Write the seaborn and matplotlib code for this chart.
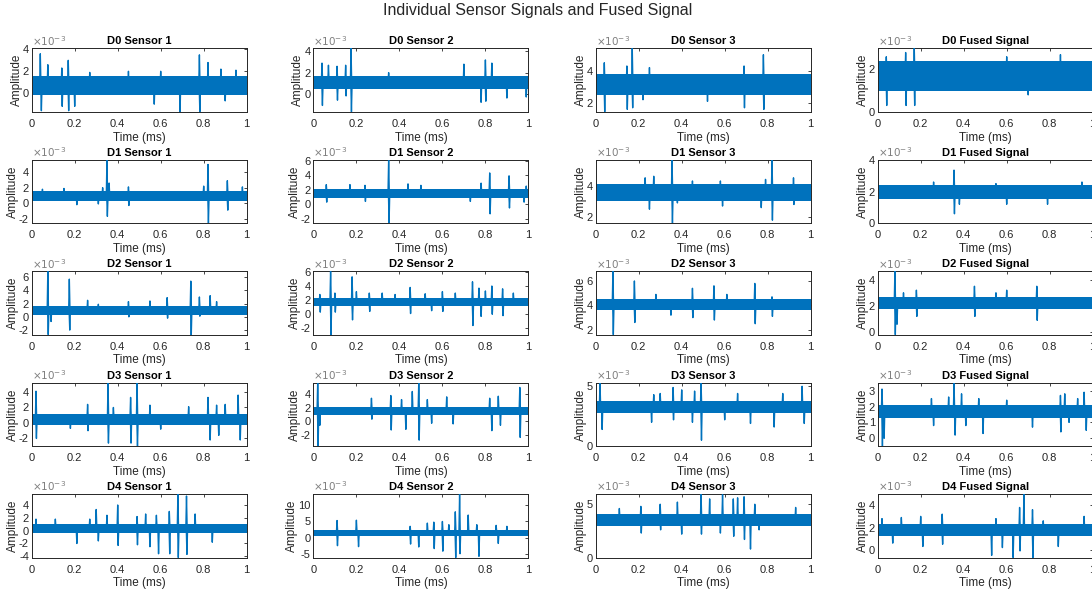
import numpy as np
import pandas as pd
import matplotlib
matplotlib.use("Agg")
import matplotlib.pyplot as plt
import seaborn as sns

# ---------------- data (amplitudes in units of 1e-3) ----------------
devices = ["D0", "D1", "D2", "D3", "D4"]
channels = ["Sensor 1", "Sensor 2", "Sensor 3", "Fused Signal"]
time_ticks = [0, 0.2, 0.4, 0.6, 0.8, 1]
time_tick_labels = ["0", "0.2", "0.4", "0.6", "0.8", "1"]

# y-limits per panel (row-major: D0 S1, D0 S2, D0 S3, D0 F, D1 S1, ...)
ylim_lo = [-1.7, -1.7, 1.45, 0.0,
           -2.6, -2.6, 1.6, 0.0,
           -2.7, -2.9, 1.6, -0.2,
           -3.0, -3.7, 0.0, -0.5,
           -4.2, -6.2, 0.0, -0.7]
ylim_hi = [4.1, 4.3, 5.4, 3.0,
           5.6, 6.1, 5.65, 4.0,
           6.9, 6.1, 6.8, 4.65,
           5.2, 5.7, 5.3, 3.5,
           5.7, 13.5, 5.95, 5.0]
yticks = [[0, 2, 4], [0, 2, 4], [2, 4], [0, 2],
          [-2, 0, 2, 4], [-2, 0, 2, 4, 6], [2, 4], [0, 2, 4],
          [-2, 0, 2, 4, 6], [-2, 0, 2, 4, 6], [2, 4, 6], [0, 2, 4],
          [-2, 0, 2, 4], [-2, 0, 2, 4], [0, 5], [0, 1, 2, 3],
          [-4, -2, 0, 2, 4], [-5, 0, 5, 10], [0, 5], [0, 2, 4]]

# dense noise band (lower / upper edge) per panel
band_lo = [-0.2, 0.5, 2.5, 1.0,
           0.3, 0.9, 3.0, 1.5,
           0.3, 1.1, 3.6, 1.8,
           -0.2, 0.9, 2.8, 1.3,
           -0.4, 0.5, 3.0, 1.2]
band_hi = [1.55, 1.7, 3.8, 2.4,
           1.6, 2.1, 4.1, 2.4,
           1.6, 2.3, 4.5, 2.7,
           1.2, 2.1, 3.8, 2.1,
           1.1, 2.5, 4.1, 2.3]

# spikes: time (ms) and peak amplitude
d0_s1_t = [0.04, 0.045, 0.075, 0.14, 0.142, 0.17, 0.172, 0.2, 0.27, 0.45, 0.57, 0.6, 0.69, 0.78, 0.782, 0.82, 0.88, 0.9, 0.95]
d0_s1_v = [3.6, -1.6, 2.6, 2.3, -1.2, 3.0, -1.6, -1.2, 1.9, 2.0, -1.0, 2.0, -1.7, 3.5, -1.7, 2.8, 2.2, -0.7, 2.1]
d0_s2_t = [0.04, 0.042, 0.07, 0.11, 0.112, 0.15, 0.152, 0.175, 0.177, 0.35, 0.7, 0.78, 0.8, 0.802, 0.83, 0.9, 0.99]
d0_s2_v = [2.9, -1.1, 2.7, 2.6, -0.6, 2.7, -0.2, 4.3, -1.7, 2.0, 2.8, -0.8, 3.2, -0.7, 2.9, -0.4, -0.3]
d0_s3_t = [0.04, 0.042, 0.145, 0.147, 0.17, 0.172, 0.22, 0.25, 0.52, 0.69, 0.692, 0.78, 0.782]
d0_s3_v = [4.5, 1.45, 4.3, 1.6, 5.4, 1.7, 2.2, 4.2, 2.1, 4.3, 1.7, 5.0, 1.6]
d0_f_t = [0.04, 0.042, 0.13, 0.132, 0.17, 0.172, 0.6, 0.7, 0.85]
d0_f_v = [2.6, 0.3, 2.8, 0.3, 3.0, 0.3, 2.6, 0.8, 2.7]

d1_s1_t = [0.05, 0.15, 0.21, 0.31, 0.33, 0.35, 0.352, 0.36, 0.45, 0.452, 0.8, 0.82, 0.822, 0.91, 0.912, 0.98]
d1_s1_v = [1.8, 1.9, -0.2, -0.1, 2.0, 5.6, -1.7, 2.6, 2.1, -0.3, 2.2, 5.0, -2.6, 2.9, -0.9, 2.1]
d1_s2_t = [0.06, 0.062, 0.17, 0.24, 0.242, 0.35, 0.352, 0.44, 0.5, 0.73, 0.78, 0.82, 0.822, 0.91, 0.912, 0.98, 0.99]
d1_s2_v = [2.7, 0.3, 2.7, 2.6, 0.4, 6.1, -2.6, 2.8, 2.6, 0.4, 2.9, 4.3, -1.3, 3.9, -0.5, 0.3, 2.5]
d1_s3_t = [0.23, 0.25, 0.27, 0.355, 0.357, 0.38, 0.45, 0.58, 0.59, 0.77, 0.79, 0.82, 0.822, 0.92, 0.922]
d1_s3_v = [4.5, 2.5, 4.6, 5.65, 1.6, 2.9, 4.3, 4.3, 2.7, 2.6, 4.4, 5.65, 1.8, 4.5, 2.8]
d1_f_t = [0.26, 0.355, 0.357, 0.38, 0.55, 0.6, 0.79, 0.95]
d1_f_v = [2.6, 3.35, 0.6, 1.2, 2.5, 1.2, 1.2, 2.6]

d2_s1_t = [0.075, 0.077, 0.09, 0.175, 0.177, 0.26, 0.31, 0.45, 0.452, 0.55, 0.63, 0.632, 0.74, 0.742, 0.78, 0.782, 0.83, 0.86]
d2_s1_v = [6.9, -2.7, -0.7, 5.7, -2.0, 2.5, 1.9, 2.3, 0.0, 2.4, 2.9, -0.2, 5.4, -3.0, 3.0, 0.1, 3.2, 2.3]
d2_s2_t = [0.03, 0.032, 0.08, 0.082, 0.1, 0.102, 0.18, 0.182, 0.2, 0.26, 0.262, 0.32, 0.38, 0.45, 0.452, 0.52, 0.55, 0.6, 0.602, 0.66, 0.74, 0.742, 0.77, 0.78, 0.8, 0.83, 0.832, 0.88, 0.882, 0.93]
d2_s2_v = [2.8, 0.3, 6.1, -2.9, 3.0, 0.3, 5.3, -0.8, 3.2, 3.0, 0.4, 3.0, 2.8, 3.8, 0.1, 2.9, 0.5, 3.2, 0.4, 3.0, 4.6, -1.6, 3.7, -0.3, 3.3, 4.0, 0.0, 3.6, -0.2, 3.0]
d2_s3_t = [0.08, 0.082, 0.18, 0.182, 0.28, 0.35, 0.45, 0.452, 0.55, 0.552, 0.61, 0.74, 0.742, 0.82, 0.822]
d2_s3_v = [6.8, 1.6, 6.0, 2.6, 4.9, 3.2, 5.4, 3.0, 5.6, 2.8, 4.9, 5.8, 2.5, 4.7, 3.1]
d2_f_t = [0.08, 0.082, 0.09, 0.12, 0.18, 0.182, 0.45, 0.452, 0.55, 0.6, 0.74, 0.742]
d2_f_v = [4.65, -0.2, 0.6, 3.0, 3.2, 1.2, 3.5, 1.2, 3.0, 3.2, 3.5, 0.9]

d3_s1_t = [0.02, 0.022, 0.18, 0.26, 0.262, 0.355, 0.357, 0.38, 0.46, 0.462, 0.49, 0.492, 0.55, 0.6, 0.73, 0.82, 0.83, 0.86, 0.87, 0.9, 0.96, 0.97]
d3_s1_v = [4.1, -2.0, -0.7, 2.4, -1.0, 5.2, -2.6, 2.0, 3.3, -2.6, 5.2, -3.0, 2.3, -0.8, 2.1, 3.3, -2.2, 2.3, -1.6, 2.4, 3.6, -2.2]
d3_s2_t = [0.02, 0.022, 0.03, 0.27, 0.272, 0.36, 0.362, 0.41, 0.43, 0.46, 0.49, 0.492, 0.53, 0.55, 0.62, 0.65, 0.82, 0.83, 0.86, 0.87, 0.96, 0.962]
d3_s2_v = [5.7, -3.7, -0.6, 3.4, 0.3, 3.8, -1.3, 3.2, -1.2, 4.4, 5.7, -2.8, 3.2, -0.3, 3.6, -0.4, 3.4, -1.4, 3.7, -0.6, 5.0, -2.4]
d3_s3_t = [0.02, 0.03, 0.26, 0.27, 0.3, 0.36, 0.362, 0.4, 0.45, 0.46, 0.49, 0.492, 0.6, 0.66, 0.72, 0.83, 0.87, 0.96, 0.97]
d3_s3_v = [5.3, 1.4, 2.0, 4.3, 4.4, 4.9, 2.2, 4.7, 2.0, 4.6, 5.3, 0.5, 2.2, 4.4, 1.9, 1.6, 4.4, 5.0, 1.9]
d3_f_t = [0.02, 0.022, 0.03, 0.25, 0.26, 0.33, 0.355, 0.36, 0.39, 0.41, 0.47, 0.49, 0.6, 0.72, 0.85, 0.852, 0.87, 0.89, 0.93, 0.96, 0.97]
d3_f_v = [3.1, -0.5, 0.0, 2.5, 0.8, 2.6, 3.5, 0.2, 2.8, 0.8, 2.5, 0.3, 2.4, 0.7, 2.7, 0.4, 2.8, 1.0, 2.5, 2.9, 0.5]

d4_s1_t = [0.02, 0.11, 0.21, 0.27, 0.3, 0.31, 0.35, 0.4, 0.402, 0.49, 0.492, 0.53, 0.55, 0.58, 0.59, 0.64, 0.642, 0.68, 0.682, 0.72, 0.722, 0.76, 0.84]
d4_s1_v = [1.8, 1.8, -2.0, 1.8, 3.3, -1.6, 2.4, 4.0, -2.3, 2.2, -2.2, 2.6, -2.5, 2.4, -3.6, 3.0, -3.6, 5.7, -4.2, 5.4, -3.7, 2.6, -1.8]
d4_s2_t = [0.11, 0.112, 0.2, 0.21, 0.45, 0.452, 0.49, 0.53, 0.56, 0.562, 0.6, 0.602, 0.63, 0.66, 0.662, 0.68, 0.682, 0.72, 0.76, 0.77, 0.85, 0.86, 0.9]
d4_s2_v = [5.3, -2.5, 5.4, -2.8, 3.5, -2.0, -2.9, 4.5, 4.8, -3.4, 5.0, -4.2, 4.0, 8.0, -6.2, 13.5, -5.0, 7.0, 4.0, -5.8, 3.8, -1.8, 3.5]
d4_s3_t = [0.11, 0.21, 0.212, 0.3, 0.302, 0.38, 0.4, 0.49, 0.492, 0.53, 0.58, 0.59, 0.64, 0.642, 0.66, 0.69, 0.692, 0.72, 0.74, 0.76, 0.93]
d4_s3_v = [4.6, 4.8, 2.3, 5.0, 2.6, 5.2, 2.2, 5.95, 2.2, 5.5, 2.3, 5.9, 5.5, 2.0, 5.6, 5.7, 1.7, 0.8, 5.0, 2.6, 4.7]
d4_f_t = [0.02, 0.07, 0.11, 0.2, 0.21, 0.3, 0.302, 0.53, 0.55, 0.58, 0.63, 0.66, 0.662, 0.68, 0.72, 0.722, 0.77, 0.84, 0.96]
d4_f_v = [2.8, 0.6, 2.9, 3.0, 0.3, 3.2, 0.5, -0.5, 2.8, 0.2, -0.7, 3.8, -0.1, 5.0, 3.6, -0.7, 2.6, 0.3, 3.0]

spike_times = [d0_s1_t, d0_s2_t, d0_s3_t, d0_f_t,
               d1_s1_t, d1_s2_t, d1_s3_t, d1_f_t,
               d2_s1_t, d2_s2_t, d2_s3_t, d2_f_t,
               d3_s1_t, d3_s2_t, d3_s3_t, d3_f_t,
               d4_s1_t, d4_s2_t, d4_s3_t, d4_f_t]
spike_vals = [d0_s1_v, d0_s2_v, d0_s3_v, d0_f_v,
              d1_s1_v, d1_s2_v, d1_s3_v, d1_f_v,
              d2_s1_v, d2_s2_v, d2_s3_v, d2_f_v,
              d3_s1_v, d3_s2_v, d3_s3_v, d3_f_v,
              d4_s1_v, d4_s2_v, d4_s3_v, d4_f_v]

# ---------------- style ----------------
sns.set_theme(style="white")
plt.rcParams["font.family"] = ["Liberation Sans", "DejaVu Sans"]
BLUE = "#0072BD"
DARK = "#262626"

W, H = 1092, 591
fig = plt.figure(figsize=(W / 100, H / 100), dpi=100)

col_left = [31.7, 313.4, 595.7, 877.7]
row_top = [48.3, 159.8, 271.2, 382.7, 494.1]
ax_w, ax_h = 215.0, 63.5
SPIKE_HALF = 0.003

for r, dev in enumerate(devices):
    for c, ch in enumerate(channels):
        k = r * 4 + c
        ax = fig.add_axes([col_left[c] / W, 1 - (row_top[r] + ax_h) / H, ax_w / W, ax_h / H])
        lo, hi = band_lo[k], band_hi[k]
        mid = (lo + hi) / 2
        # dense noise band
        ax.fill_between([0, 1], [lo, lo], [hi, hi], color=BLUE, lw=0, zorder=2)
        # spikes as a trace
        order = np.argsort(spike_times[k], kind="stable")
        xs, ys = [], []
        for i in order:
            t, v = spike_times[k][i], spike_vals[k][i]
            xs += [t - SPIKE_HALF, t, t + SPIKE_HALF]
            ys += [mid, v, mid]
        df = pd.DataFrame({"t": xs, "a": ys})
        sns.lineplot(data=df, x="t", y="a", sort=False, estimator=None, ax=ax,
                     color=BLUE, lw=1.0, zorder=3)
        ax.set_xlim(0, 1)
        ax.set_ylim(ylim_lo[k], ylim_hi[k])
        ax.set_xticks(time_ticks)
        ax.set_xticklabels(time_tick_labels)
        ax.set_yticks(yticks[k])
        ax.set_yticklabels([str(v) for v in yticks[k]])
        ax.tick_params(direction="in", length=2.5, width=0.6, top=True, right=True,
                       labelsize=8, colors=DARK)
        ax.tick_params(axis="x", pad=5)
        ax.tick_params(axis="y", pad=2)
        for sp in ax.spines.values():
            sp.set_visible(True)
            sp.set_linewidth(0.7)
            sp.set_color(DARK)
        ax.set_xlabel("Time (ms)", fontsize=8.5, color=DARK, labelpad=2)
        ax.set_ylabel("Amplitude", fontsize=8.5, color=DARK, labelpad=0)
        ax.set_title(f"{dev} {ch}", fontsize=8, fontweight="bold", color="black", pad=3)
        ax.text(0.0, 1.01, r"$\times10^{-3}$", transform=ax.transAxes, fontsize=7.5,
                color="#7f7f7f", ha="left", va="bottom")

fig.text(538 / W, 1 - 10 / H, "Individual Sensor Signals and Fused Signal",
         ha="center", va="center", fontsize=11.5, color=DARK)

fig.savefig("out.png", dpi=100)
